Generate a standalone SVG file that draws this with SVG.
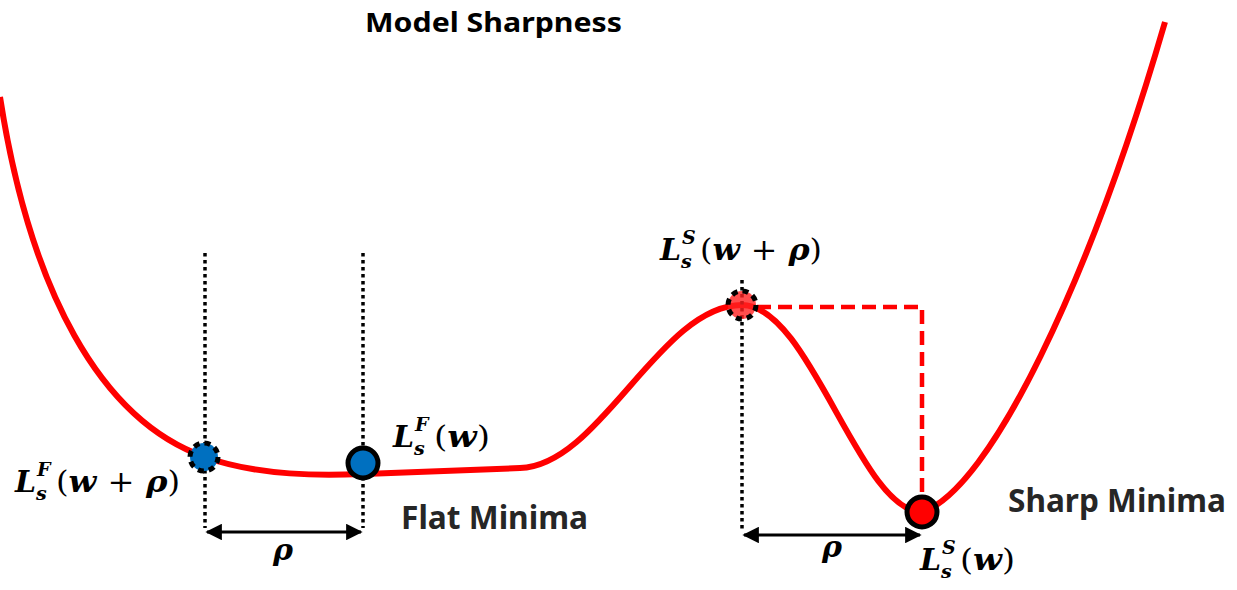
<svg xmlns="http://www.w3.org/2000/svg" width="1237" height="590" viewBox="0 0 1237 590">
<style>
.curve{fill:none;stroke:#ff0000;stroke-width:6;stroke-linecap:butt}
.dot{fill:none;stroke:#000;stroke-width:3.5;stroke-dasharray:3.5 3.5}
.rdash{fill:none;stroke:#ff0000;stroke-width:4.5;stroke-dasharray:14 7}
.arrow{stroke:#000;stroke-width:3;fill:none}
.title{font-family:"Noto Sans","Open Sans",sans-serif;font-weight:bold;fill:#000}
.lbl{font-family:"Noto Sans","Open Sans",sans-serif;font-weight:bold;fill:#262626}
.m{font-family:"DejaVu Serif","Liberation Serif",serif;font-weight:bold;font-style:italic;fill:#000}
.u{font-style:normal;font-weight:normal}
.pert{fill:none;stroke:#000;stroke-width:5;stroke-dasharray:6 5}
</style>
<defs>
<marker id="ah" viewBox="0 0 10 10" refX="9" refY="5" markerWidth="5.5" markerHeight="5.5" orient="auto-start-reverse" markerUnits="strokeWidth">
<path d="M0,0 L10,5 L0,10 z" fill="#000"/>
</marker>
</defs>
<rect width="1237" height="590" fill="#fff"/>
<text class="title" x="365" y="32" font-size="26" textLength="257" lengthAdjust="spacingAndGlyphs">Model Sharpness</text>
<g id="loss-curve">
<path class="curve" d="M0,97 C30,290 100,420 205,457 C255,475 320,476 362,474 C420,472 480,470 520,468 C600,466 660,305 742,305 C810,305 860,512 922,512 C990,490 1090,280 1165,22"/>
</g>
<g id="connectors">
<line class="dot" x1="205" y1="253" x2="205" y2="528"/>
<line class="dot" x1="363" y1="253" x2="363" y2="528"/>
<line class="dot" x1="742" y1="280" x2="742" y2="531"/>
<path class="rdash" d="M757,307 L922,307 L922,497"/>
<line class="arrow" x1="207" y1="532" x2="361" y2="532" marker-start="url(#ah)" marker-end="url(#ah)"/>
<line class="arrow" x1="744" y1="535" x2="920" y2="535" marker-start="url(#ah)" marker-end="url(#ah)"/>
</g>
<g id="flat-perturbed">
<circle cx="204" cy="457" r="14" fill="#0070c0"/>
<circle class="pert" cx="204" cy="457" r="14"/>
</g>
<g id="flat-minimum">
<circle cx="363" cy="463" r="15" fill="#0070c0" stroke="#000" stroke-width="5"/>
</g>
<g id="sharp-perturbed">
<circle cx="742" cy="305" r="14" fill="#ff2020" fill-opacity="0.8"/>
<circle class="pert" cx="742" cy="305" r="14"/>
</g>
<g id="sharp-minimum">
<circle cx="922" cy="512" r="15" fill="#ff0000" stroke="#000" stroke-width="5"/>
</g>
<g id="labels">
<text class="lbl" x="401" y="529" font-size="33" textLength="187" lengthAdjust="spacingAndGlyphs">Flat Minima</text>
<text class="lbl" x="1008" y="512" font-size="32" textLength="218" lengthAdjust="spacingAndGlyphs">Sharp Minima</text>
<text class="m" x="15" y="492" font-size="30">L</text>
<text class="m" x="37" y="476" font-size="19">F</text>
<text class="m" x="36" y="500" font-size="19">s</text>
<text class="m" x="56" y="492" font-size="30" textLength="124" lengthAdjust="spacingAndGlyphs"><tspan class="u">(</tspan>w <tspan class="u">+</tspan> ρ<tspan class="u">)</tspan></text>
<text class="m" x="393" y="447" font-size="30">L</text>
<text class="m" x="415" y="431" font-size="19">F</text>
<text class="m" x="414" y="455" font-size="19">s</text>
<text class="m" x="434" y="447" font-size="30" textLength="56" lengthAdjust="spacingAndGlyphs"><tspan class="u">(</tspan>w<tspan class="u">)</tspan></text>
<text class="m" x="660" y="260" font-size="30">L</text>
<text class="m" x="682" y="244" font-size="19">S</text>
<text class="m" x="681" y="268" font-size="19">s</text>
<text class="m" x="700" y="260" font-size="30" textLength="122" lengthAdjust="spacingAndGlyphs"><tspan class="u">(</tspan>w <tspan class="u">+</tspan> ρ<tspan class="u">)</tspan></text>
<text class="m" x="920" y="570" font-size="30">L</text>
<text class="m" x="942" y="554" font-size="19">S</text>
<text class="m" x="941" y="578" font-size="19">s</text>
<text class="m" x="960" y="570" font-size="30" textLength="55" lengthAdjust="spacingAndGlyphs"><tspan class="u">(</tspan>w<tspan class="u">)</tspan></text>
<text class="m" x="283" y="560" font-size="30" text-anchor="middle">ρ</text>
<text class="m" x="832" y="557" font-size="30" text-anchor="middle">ρ</text>
</g>
</svg>
